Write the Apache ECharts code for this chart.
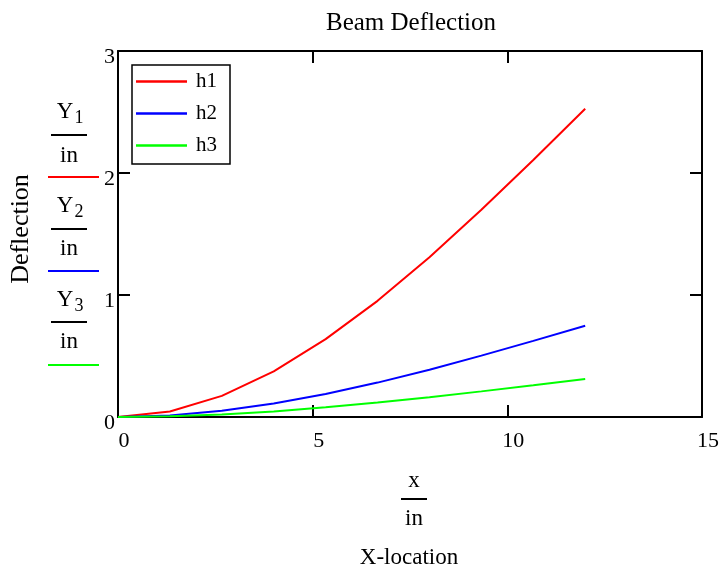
<!DOCTYPE html>
<html><head><meta charset="utf-8">
<script src="https://cdn.jsdelivr.net/npm/echarts@6/dist/echarts.min.js"></script>
<style>html,body{margin:0;padding:0;background:#fff}#c{width:722px;height:571px}</style>
</head><body><div id="c"></div>
<script>
const xs = [0, 1.333, 2.667, 4, 5.333, 6.667, 8, 9.333, 10.667, 12];
const h1 = [0, 0.045, 0.173, 0.374, 0.638, 0.952, 1.31, 1.698, 2.107, 2.526];
const h2 = [0, 0.013, 0.051, 0.111, 0.189, 0.282, 0.388, 0.503, 0.624, 0.748];
const h3 = [0, 0.006, 0.021, 0.046, 0.079, 0.118, 0.162, 0.21, 0.26, 0.312];
const seriesNames = ['h1', 'h2', 'h3'];
const colors = ['#ff0000', '#0000ff', '#00ff00'];
const xTicks = {min: 0, max: 15, interval: 5};
const yTicks = {min: 0, max: 3, interval: 1};

const FONT = 'Liberation Serif';
const chart = echarts.init(document.getElementById('c'));
const pair = (xa, ya) => xa.map((x, i) => [x, ya[i]]);

function txt(x, y, text, size, extra) {
  return Object.assign({
    type: 'text', x: x, y: y,
    style: {text: text, font: size + 'px "' + FONT + '"', fill: '#000',
      align: 'center', verticalAlign: 'middle', textAlign: 'center', textVerticalAlign: 'middle'}
  }, extra || {});
}
function ln(x1, y1, x2, y2, color) {
  return {type: 'line', shape: {x1: x1, y1: y1, x2: x2, y2: y2}, style: {stroke: color, lineWidth: 2}};
}

const axisCommon = {
  axisLine: {show: true, onZero: false, lineStyle: {color: '#000', width: 2}},
  axisTick: {show: true, inside: true, length: 12, lineStyle: {color: '#000', width: 2}},
  splitLine: {show: false}
};

chart.setOption({
  animation: false,
  title: {text: 'Beam Deflection', left: 406, top: 6, textAlign: 'center',
    textStyle: {fontFamily: FONT, fontSize: 25, fontWeight: 'normal', color: '#000'}},
  grid: {left: 118, top: 51, right: 18, bottom: 154},
  legend: {
    data: seriesNames, orient: 'vertical', left: 132, top: 65,
    icon: 'rect', itemWidth: 51, itemHeight: 2.5, itemGap: 11,
    padding: [6, 13, 8, 4], borderColor: '#000', borderWidth: 1.5, backgroundColor: '#fff',
    textStyle: {fontFamily: FONT, fontSize: 21, color: '#000', lineHeight: 21, padding: [0, 0, 0, 4]}
  },
  xAxis: [
    Object.assign({type: 'value', position: 'bottom', min: xTicks.min, max: xTicks.max, interval: xTicks.interval,
      axisLabel: {fontFamily: FONT, fontSize: 22, color: '#000', margin: 13,
        formatter: '{a|{value}}', rich: {a: {fontFamily: FONT, fontSize: 22, color: '#000', padding: [0, 0, 0, 12]}}}}, axisCommon),
    Object.assign({type: 'value', position: 'top', min: xTicks.min, max: xTicks.max, interval: xTicks.interval,
      axisLabel: {show: false}}, axisCommon)
  ],
  yAxis: [
    Object.assign({type: 'value', position: 'left', min: yTicks.min, max: yTicks.max, interval: yTicks.interval,
      axisLabel: {fontFamily: FONT, fontSize: 22, color: '#000', margin: 3,
        formatter: '{a|{value}}', rich: {a: {fontFamily: FONT, fontSize: 22, color: '#000', padding: [12, 0, 0, 0]}}}}, axisCommon),
    Object.assign({type: 'value', position: 'right', min: yTicks.min, max: yTicks.max, interval: yTicks.interval,
      axisLabel: {show: false}}, axisCommon)
  ],
  series: [h1, h2, h3].map((ys, i) => ({
    name: seriesNames[i], type: 'line', data: pair(xs, ys), symbol: 'none',
    xAxisIndex: 0, yAxisIndex: 0,
    itemStyle: {color: colors[i]}, lineStyle: {color: colors[i], width: 2}
  })),
  graphic: [
    txt(21, 229, 'Deflection', 26, {rotation: Math.PI / 2}),
    txt(65, 112, 'Y', 23), txt(79, 118, '1', 18),
    ln(51, 135, 87, 135, '#000'),
    txt(69, 156, 'in', 23),
    ln(48, 177, 99, 177, colors[0]),
    txt(65, 206, 'Y', 23), txt(79, 212, '2', 18),
    ln(51, 229, 87, 229, '#000'),
    txt(69, 249, 'in', 23),
    ln(48, 271, 99, 271, colors[1]),
    txt(65, 300, 'Y', 23), txt(79, 306, '3', 18),
    ln(51, 322, 87, 322, '#000'),
    txt(69, 342, 'in', 23),
    ln(48, 365, 99, 365, colors[2]),
    txt(414, 481, 'x', 23),
    ln(401, 499, 427, 499, '#000'),
    txt(414, 519, 'in', 23),
    txt(409, 558, 'X-location', 23)
  ]
});
</script>
</body></html>
